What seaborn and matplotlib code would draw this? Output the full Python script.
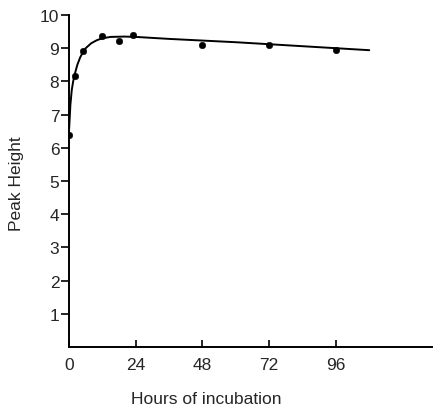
import matplotlib
matplotlib.use("Agg")
import matplotlib.pyplot as plt
import seaborn as sns
import pandas as pd

# Measured points
hours = [0, 2, 5, 12, 18, 23, 48, 72, 96]
peak = [6.4, 8.15, 8.93, 9.38, 9.22, 9.4, 9.1, 9.1, 8.95]

# Fitted curve
curve_x = [0, 0.5, 1, 1.5, 2, 3, 4, 5, 6, 8, 10, 12, 15, 20, 24, 36, 48, 60, 72, 84, 96, 108]
curve_y = [6.5, 7.3, 7.75, 8.0, 8.2, 8.5, 8.72, 8.88, 9.0, 9.15, 9.24, 9.3, 9.34, 9.35, 9.34, 9.28, 9.23, 9.18, 9.12, 9.06, 9.0, 8.94]

x_ticks = [0, 24, 48, 72, 96]
y_ticks = [1, 2, 3, 4, 5, 6, 7, 8, 9, 10]

sns.set_theme(style="white")
plt.rcParams['font.family'] = ['Liberation Sans', 'DejaVu Sans']

fig = plt.figure(figsize=(4.34, 4.10), dpi=100)
ax = fig.add_axes([0.159, 0.151, 0.836, 0.810])

pts = pd.DataFrame({"h": hours, "p": peak})
cur = pd.DataFrame({"h": curve_x, "p": curve_y})
sns.lineplot(data=cur, x="h", y="p", ax=ax, color="black", linewidth=1.4)
sns.scatterplot(data=pts, x="h", y="p", ax=ax, color="black", s=22, edgecolor="black", zorder=3)

ax.set_xlim(0, 130.5)
ax.set_ylim(0, 10)
ax.set_xticks(x_ticks)
ax.set_yticks(y_ticks)
ax.set_xticklabels([str(t) for t in x_ticks], fontsize=12.5)
ax.set_yticklabels([str(t) for t in y_ticks], fontsize=12.5)
ax.tick_params(axis="x", direction="in", length=5, width=1.2, color="black", pad=7)
ax.tick_params(axis="y", direction="out", length=6, width=1.2, color="black", pad=1)
ax.xaxis.set_ticks_position("bottom")
ax.yaxis.set_ticks_position("left")
for s in ["top", "right"]:
    ax.spines[s].set_visible(False)
for s in ["left", "bottom"]:
    ax.spines[s].set_color("black")
    ax.spines[s].set_linewidth(1.4)

ax.set_xlabel("")
ax.set_ylabel("")
fig.text(0.475, 0.014, "Hours of incubation", ha="center", va="baseline", fontsize=12.5)
fig.text(0.037, 0.551, "Peak Height", ha="center", va="center", rotation=90, fontsize=12.5)

fig.savefig("out.png", dpi=100)
